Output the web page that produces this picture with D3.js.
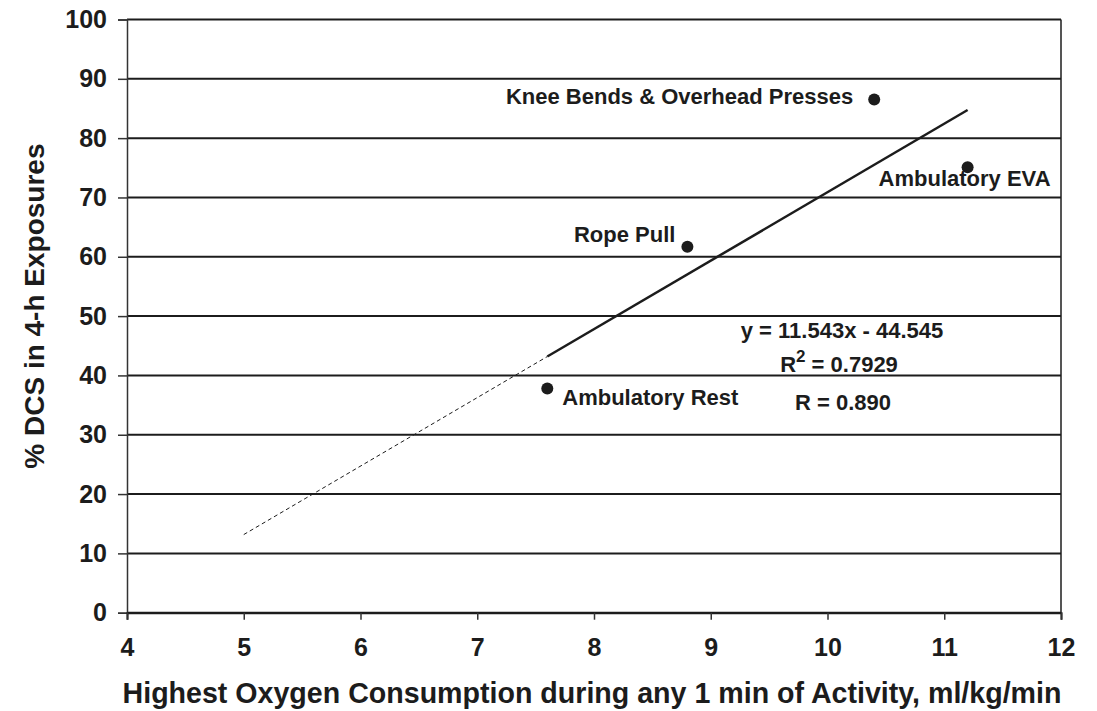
<!DOCTYPE html>
<html>
<head>
<meta charset="utf-8">
<script src="https://cdn.jsdelivr.net/npm/d3@7"></script>
<style>
  html, body { margin: 0; padding: 0; background: #fff; }
  svg { display: block; font-family: "Liberation Sans", Arial, sans-serif; font-weight: bold; }
</style>
</head>
<body>
<svg id="chart" width="1097" height="711"></svg>
<script>
const WIDTH = 1097;
const HEIGHT = 711;
const MARGIN = { top: 19.5, right: 36, bottom: 98.3, left: 127 };

// data
const activities = ["Ambulatory Rest", "Rope Pull", "Knee Bends & Overhead Presses", "Ambulatory EVA"];
const oxygen = [7.6, 8.8, 10.4, 11.2];
const dcsPercent = [37.8, 61.7, 86.5, 75.1];

const xTicks = [4, 5, 6, 7, 8, 9, 10, 11, 12];
const yTicks = [0, 10, 20, 30, 40, 50, 60, 70, 80, 90, 100];

const slope = 11.543;
const intercept = -44.545;
const fitSolid = [7.6, 11.2];
const fitDashed = [5, 7.6];

const equationLines = ["y = 11.543x - 44.545", "R", "R = 0.890"];

const svg = d3.select("#chart");
const innerW = WIDTH - MARGIN.left - MARGIN.right;
const innerH = HEIGHT - MARGIN.top - MARGIN.bottom;

const x = d3.scaleLinear().domain([4, 12]).range([MARGIN.left, MARGIN.left + innerW]);
const y = d3.scaleLinear().domain([0, 100]).range([MARGIN.top + innerH, MARGIN.top]);

const INK = "#1c1c1c";

// horizontal gridlines
svg.append("g")
  .selectAll("line")
  .data(yTicks)
  .join("line")
  .attr("x1", x(4))
  .attr("x2", x(12))
  .attr("y1", d => y(d))
  .attr("y2", d => y(d))
  .attr("stroke", INK)
  .attr("stroke-width", 2);

// right border
svg.append("line")
  .attr("x1", x(12)).attr("x2", x(12))
  .attr("y1", y(0)).attr("y2", y(100))
  .attr("stroke", INK)
  .attr("stroke-width", 1.5);

// y axis
const yAxis = svg.append("g")
  .attr("transform", `translate(${x(4)},0)`)
  .call(d3.axisLeft(y).tickValues(yTicks).tickSize(9).tickPadding(11));
yAxis.select(".domain").attr("stroke", "#333").attr("stroke-width", 1.5);
yAxis.selectAll(".tick line").attr("stroke", "#333").attr("stroke-width", 1.5);
yAxis.selectAll("text")
  .attr("fill", INK)
  .style("font-size", "25px")
  .style("font-family", "Liberation Sans, Arial, sans-serif")
  .style("font-weight", "bold");

// x axis
const xAxis = svg.append("g")
  .attr("transform", `translate(0,${y(0)})`)
  .call(d3.axisBottom(x).tickValues(xTicks).tickSize(7).tickPadding(19));
xAxis.select(".domain").attr("stroke", INK).attr("stroke-width", 2);
xAxis.selectAll(".tick line").attr("stroke", "#333").attr("stroke-width", 1.5);
xAxis.selectAll("text")
  .attr("fill", INK)
  .style("font-size", "25px")
  .style("font-family", "Liberation Sans, Arial, sans-serif")
  .style("font-weight", "bold");

// regression line
const fit = d3.line().x(d => x(d)).y(d => y(slope * d + intercept));
svg.append("path")
  .attr("d", fit(fitDashed))
  .attr("fill", "none")
  .attr("stroke", INK)
  .attr("stroke-width", 1)
  .attr("stroke-dasharray", "4,3");
svg.append("path")
  .attr("d", fit(fitSolid))
  .attr("fill", "none")
  .attr("stroke", INK)
  .attr("stroke-width", 2.5);

// points
const points = oxygen.map((v, i) => ({ name: activities[i], x: v, y: dcsPercent[i] }));
svg.append("g")
  .selectAll("circle")
  .data(points)
  .join("circle")
  .attr("cx", d => x(d.x))
  .attr("cy", d => y(d.y))
  .attr("r", 6)
  .attr("fill", INK);

// point labels (offset from each point)
const labelOffsets = [
  { dx: 15, dy: 17, anchor: "start" },
  { dx: -12, dy: -5, anchor: "end" },
  { dx: -21, dy: 4, anchor: "end" },
  { dx: -89, dy: 19, anchor: "start" }
];
svg.append("g")
  .selectAll("text")
  .data(points)
  .join("text")
  .attr("x", (d, i) => x(d.x) + labelOffsets[i].dx)
  .attr("y", (d, i) => y(d.y) + labelOffsets[i].dy)
  .attr("text-anchor", (d, i) => labelOffsets[i].anchor)
  .attr("fill", INK)
  .style("font-size", "22px")
  .text(d => d.name);

// equation block
svg.append("text")
  .attr("x", 842).attr("y", 338)
  .attr("text-anchor", "middle")
  .attr("fill", INK)
  .style("font-size", "22px")
  .text(equationLines[0]);
const r2 = svg.append("text")
  .attr("x", 839).attr("y", 372)
  .attr("text-anchor", "middle")
  .attr("fill", INK)
  .style("font-size", "22px");
r2.append("tspan").text(equationLines[1]);
r2.append("tspan").attr("dy", -10).style("font-size", "17px").text("2");
r2.append("tspan").attr("dy", 10).text(" = 0.7929");
svg.append("text")
  .attr("x", 843).attr("y", 410)
  .attr("text-anchor", "middle")
  .attr("fill", INK)
  .style("font-size", "22px")
  .text(equationLines[2]);

// axis titles
svg.append("text")
  .attr("x", (x(4) + x(12)) / 2 - 2)
  .attr("y", 703)
  .attr("text-anchor", "middle")
  .attr("fill", INK)
  .style("font-size", "28.6px")
  .text("Highest Oxygen Consumption during any 1 min of Activity, ml/kg/min");

svg.append("text")
  .attr("transform", `translate(44,${(y(0) + y(100)) / 2 - 10}) rotate(-90)`)
  .attr("text-anchor", "middle")
  .attr("fill", INK)
  .style("font-size", "28px")
  .text("% DCS in 4-h Exposures");
</script>
</body>
</html>
